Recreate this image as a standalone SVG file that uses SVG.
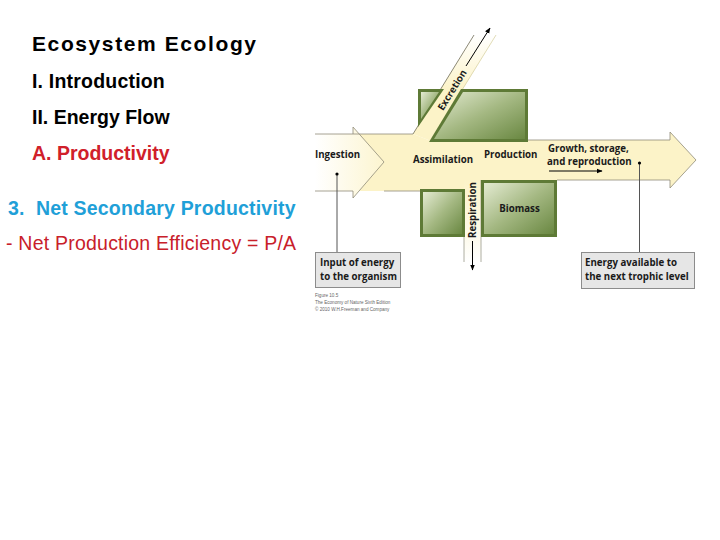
<svg xmlns="http://www.w3.org/2000/svg" width="720" height="540" viewBox="0 0 720 540">
<defs>
<style>
.h{font-family:"Liberation Sans",Arial,sans-serif;font-weight:bold;font-size:19.5px;fill:#000}
.lbl{font-family:"Open Sans","Noto Sans",sans-serif;font-weight:bold;font-size:9.7px;fill:#1a1a1a}
.box{fill:#e6e6e6;stroke:#8c8c8c;stroke-width:1}
.edge{fill:none;stroke:#8f8c78;stroke-width:0.8}
.lead{fill:none;stroke:#555;stroke-width:1}
.cap{font-family:"Liberation Sans",Arial,sans-serif;font-size:4.6px;fill:#666}
</style>
<linearGradient id="ing" x1="315" y1="0" x2="395" y2="0" gradientUnits="userSpaceOnUse">
<stop offset="0" stop-color="#ffffff"/><stop offset="1" stop-color="#fcf3c8"/>
</linearGradient>
<linearGradient id="exc" x1="0" y1="134" x2="0" y2="35" gradientUnits="userSpaceOnUse">
<stop offset="0" stop-color="#fcf3c8"/><stop offset="0.45" stop-color="#fcf3c8"/><stop offset="1" stop-color="#ffffff"/>
</linearGradient>
<linearGradient id="resp" x1="0" y1="180" x2="0" y2="262" gradientUnits="userSpaceOnUse">
<stop offset="0" stop-color="#fcf3c8"/><stop offset="0.6" stop-color="#fdf9e6"/><stop offset="1" stop-color="#ffffff"/>
</linearGradient>
<linearGradient id="grn" x1="0" y1="0" x2="1" y2="1">
<stop offset="0" stop-color="#e4ebd2"/><stop offset="0.5" stop-color="#a4b882"/><stop offset="1" stop-color="#6a8842"/>
</linearGradient>
<marker id="ah" viewBox="0 0 10 10" refX="9" refY="5" markerWidth="6" markerHeight="6" orient="auto" markerUnits="userSpaceOnUse">
<path d="M0,1 L10,5 L0,9 z" fill="#000"/>
</marker>
</defs>

<g id="title" class="h">
<text x="32" y="51" font-size="21" letter-spacing="1.6">Ecosystem Ecology</text>
<text x="32" y="88" letter-spacing="0.2">I. Introduction</text>
<text x="32" y="124">II. Energy Flow</text>
<text x="32" y="160" style="fill:#d0202a">A. Productivity</text>
<text x="8" y="215" style="fill:#1fa0d8" letter-spacing="0.2" xml:space="preserve">3.  Net Secondary Productivity</text>
<text x="6" y="250" style="fill:#c8202a;font-weight:normal" letter-spacing="0.22">- Net Production Efficiency = P/A</text>
</g>

<g id="band">
<polygon points="353,134 413,134 431,141 527,141 527,140 670,140 670,132 696,160 670,188 670,180 481,180 481,191 353,191" fill="#fcf3c8"/>
<polygon points="315,134 353,134 353,127 384,162 353,198 353,191 315,191" fill="url(#ing)"/>
<polyline class="edge" points="315,134 353,134 353,127 384,162 353,198 353,191 315,191"/>
<line class="edge" x1="353" y1="134" x2="413" y2="134"/>
<line class="edge" x1="384" y1="191" x2="421" y2="191"/>
<polyline class="edge" points="527,140 670,140 670,132 696,160 670,188 670,180 557,180"/>
</g>

<g id="excretion">
<polygon points="413,134 474,35 496,35 431,141" fill="url(#exc)"/>
<line x1="413" y1="134" x2="474" y2="35" stroke="#6e6b55" stroke-width="0.8"/>
<line x1="462" y1="90" x2="496" y2="35" stroke="#d9d3a6" stroke-width="0.8"/>
<text class="lbl" transform="translate(452,90) rotate(-58.2)" text-anchor="middle" dy="3.5">Excretion</text>
</g>

<g id="respiration">
<rect x="464" y="180" width="17" height="82" fill="url(#resp)"/>
<line x1="464" y1="190" x2="464" y2="262" stroke="#9a9a8a" stroke-width="0.8"/>
<line x1="481" y1="180" x2="481" y2="262" stroke="#9a9a8a" stroke-width="0.8"/>
<text class="lbl" transform="translate(472.5,210) rotate(-90)" text-anchor="middle" dy="3.5">Respiration</text>
</g>

<g id="box-top">
<polygon points="418,89 444,89 418,127" fill="#5e7a36"/>
<polygon points="421,92 439,92 421,119" fill="url(#grn)"/>
<polygon points="461,89 528,89 528,142 429,142" fill="#5e7a36"/>
<polygon points="463,92 525,92 525,139 434,139" fill="url(#grn)"/>
</g>

<g id="box-left">
<rect x="420" y="189" width="45" height="48" fill="#5e7a36"/>
<rect x="423" y="192" width="39" height="42" fill="url(#grn)"/>
</g>

<g id="box-biomass">
<rect x="481" y="180" width="76" height="57" fill="#5e7a36"/>
<rect x="484" y="183" width="70" height="51" fill="url(#grn)"/>
<text class="lbl" x="519.5" y="212" text-anchor="middle">Biomass</text>
</g>

<g id="labels" class="lbl">
<text x="315" y="158">Ingestion</text>
<text x="413" y="163">Assimilation</text>
<text x="484" y="158">Production</text>
<text x="548" y="152">Growth, storage,</text>
<text x="547" y="165">and reproduction</text>
</g>

<g id="connectors">
<line x1="549" y1="171" x2="602" y2="171" stroke="#000" stroke-width="1" marker-end="url(#ah)"/>
<line x1="466" y1="66" x2="490" y2="28" stroke="#000" stroke-width="1" marker-end="url(#ah)"/>
<line x1="472.5" y1="241" x2="472.5" y2="270" stroke="#000" stroke-width="1" marker-end="url(#ah)"/>
<line class="lead" x1="337" y1="174" x2="337" y2="252"/>
<line class="lead" x1="639.5" y1="163" x2="639.5" y2="252"/>
<circle cx="337" cy="174" r="1.6" fill="#000"/>
<circle cx="639.5" cy="163" r="1.6" fill="#000"/>
</g>

<g id="box-input">
<rect class="box" x="315.5" y="252.5" width="85" height="35"/>
<text class="lbl" x="320" y="266">Input of energy</text>
<text class="lbl" x="320" y="280">to the organism</text>
</g>

<g id="box-energy">
<rect class="box" x="581.5" y="252.5" width="113" height="36"/>
<text class="lbl" x="585" y="266">Energy available to</text>
<text class="lbl" x="585" y="280">the next trophic level</text>
</g>

<g id="caption" class="cap">
<text x="315" y="297">Figure 10.5</text>
<text x="315" y="304">The Economy of Nature Sixth Edition</text>
<text x="315" y="311">© 2010 W.H.Freeman and Company</text>
</g>
</svg>
